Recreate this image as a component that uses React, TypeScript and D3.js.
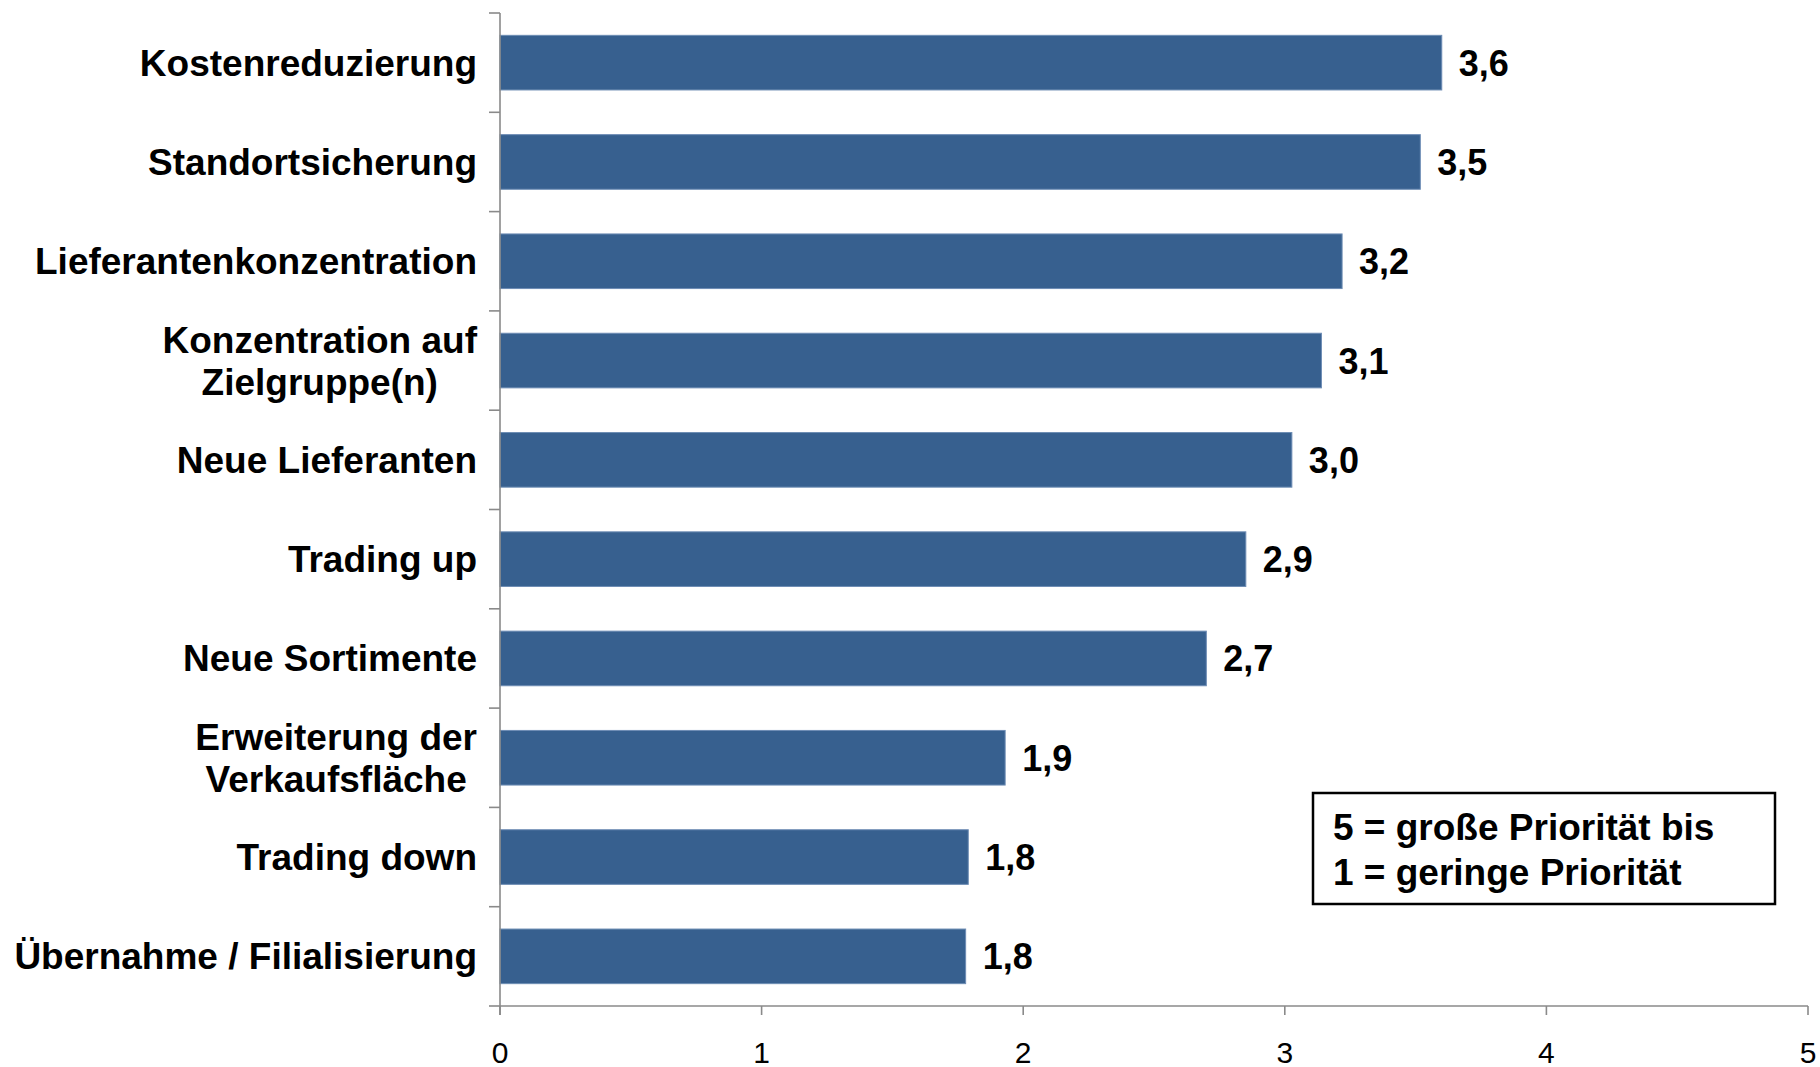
import React, { useEffect, useRef } from "react";
import * as d3 from "d3";

const categories: string[] = [
  "Kostenreduzierung",
  "Standortsicherung",
  "Lieferantenkonzentration",
  "Konzentration auf\nZielgruppe(n)",
  "Neue Lieferanten",
  "Trading up",
  "Neue Sortimente",
  "Erweiterung der\nVerkaufsfläche",
  "Trading down",
  "Übernahme / Filialisierung",
];
const values: number[] = [3.6, 3.518, 3.219, 3.14, 3.027, 2.851, 2.7, 1.931, 1.79, 1.78];
const xTicks: number[] = [0, 1, 2, 3, 4, 5];
const legendLines: string[] = ["5 = große Priorität bis", "1 = geringe Priorität"];

const W = 1820;
const H = 1067;
const FONT = "'Liberation Sans', Arial, Helvetica, sans-serif";

export default function App() {
  const ref = useRef<SVGSVGElement | null>(null);

  useEffect(() => {
    const svg = d3.select(ref.current);
    svg.selectAll("*").remove();

    const x = d3.scaleLinear().domain([0, 5]).range([500, 1808]);
    const y = d3
      .scaleBand<string>()
      .domain(categories)
      .range([13, 1006])
      .paddingInner(0.45)
      .paddingOuter(0.225);

    const locale = d3.formatLocale({ decimal: ",", thousands: ".", grouping: [3], currency: ["", "€"] });
    const fmt = locale.format(".1f");
    const axisColor = "#8a8a8a";

    // bars
    svg
      .append("g")
      .selectAll("rect")
      .data(values)
      .join("rect")
      .attr("x", x(0))
      .attr("y", (_d, i) => y(categories[i]) as number)
      .attr("width", (d) => x(d) - x(0))
      .attr("height", y.bandwidth())
      .attr("fill", "#37608f")
      .attr("stroke", "#6d8cb4")
      .attr("stroke-width", 1);

    // y axis line and ticks
    const g = svg.append("g");
    g.append("line")
      .attr("x1", x(0))
      .attr("x2", x(0))
      .attr("y1", 13)
      .attr("y2", 1015)
      .attr("stroke", axisColor)
      .attr("stroke-width", 1.6);
    const step = y.step();
    const boundaries = d3.range(categories.length + 1).map((i) => 13 + i * step);
    g.selectAll("line.yt")
      .data(boundaries)
      .join("line")
      .attr("class", "yt")
      .attr("x1", x(0) - 11)
      .attr("x2", x(0))
      .attr("y1", (d) => d)
      .attr("y2", (d) => d)
      .attr("stroke", axisColor)
      .attr("stroke-width", 1.6);

    // x axis
    g.append("line")
      .attr("x1", x(0))
      .attr("x2", x(5))
      .attr("y1", 1006)
      .attr("y2", 1006)
      .attr("stroke", axisColor)
      .attr("stroke-width", 1.6);
    g.selectAll("line.xt")
      .data(xTicks)
      .join("line")
      .attr("class", "xt")
      .attr("x1", (d) => x(d))
      .attr("x2", (d) => x(d))
      .attr("y1", 1006)
      .attr("y2", 1015)
      .attr("stroke", axisColor)
      .attr("stroke-width", 1.6);
    g.selectAll("text.xl")
      .data(xTicks)
      .join("text")
      .attr("class", "xl")
      .attr("x", (d) => x(d))
      .attr("y", 1063)
      .attr("text-anchor", "middle")
      .attr("font-family", FONT)
      .attr("font-size", 30)
      .attr("fill", "#000")
      .text((d) => String(d));

    // category labels
    const labelRight = 477;
    const lineH = 42;
    categories.forEach((c) => {
      const lines = c.split("\n");
      const cy = (y(c) as number) + y.bandwidth() / 2;
      const t = svg
        .append("text")
        .attr("font-family", FONT)
        .attr("font-size", 37)
        .attr("font-weight", "bold")
        .attr("fill", "#000");
      const tspans = lines.map((ln, j) =>
        t
          .append("tspan")
          .attr("y", cy + 13 + (j - (lines.length - 1) / 2) * lineH)
          .text(ln)
      );
      if (lines.length === 1) {
        t.attr("text-anchor", "end");
        tspans[0].attr("x", labelRight);
      } else {
        const widths = tspans.map((s) => (s.node() as SVGTSpanElement).getComputedTextLength());
        const maxW = Math.max(...widths);
        t.attr("text-anchor", "middle");
        tspans.forEach((s) => s.attr("x", labelRight - maxW / 2));
      }
    });

    // value labels
    svg
      .append("g")
      .selectAll("text")
      .data(values)
      .join("text")
      .attr("x", (d) => x(d) + 17)
      .attr("y", (_d, i) => (y(categories[i]) as number) + y.bandwidth() / 2 + 13)
      .attr("font-family", FONT)
      .attr("font-size", 36)
      .attr("font-weight", "bold")
      .attr("fill", "#000")
      .text((d) => fmt(d));

    // legend box
    const lg = svg.append("g");
    lg.append("rect")
      .attr("x", 1313)
      .attr("y", 793)
      .attr("width", 462)
      .attr("height", 111)
      .attr("fill", "#fff")
      .attr("stroke", "#000")
      .attr("stroke-width", 2.5);
    lg.selectAll("text")
      .data(legendLines)
      .join("text")
      .attr("x", 1333)
      .attr("y", (_d, i) => 840 + i * 45)
      .attr("font-family", FONT)
      .attr("font-size", 37)
      .attr("font-weight", "bold")
      .attr("fill", "#000")
      .text((d) => d);
  }, []);

  return (
    <svg
      ref={ref}
      width={W}
      height={H}
      style={{ position: "absolute", left: 0, top: 0, background: "#fff", display: "block" }}
    />
  );
}
